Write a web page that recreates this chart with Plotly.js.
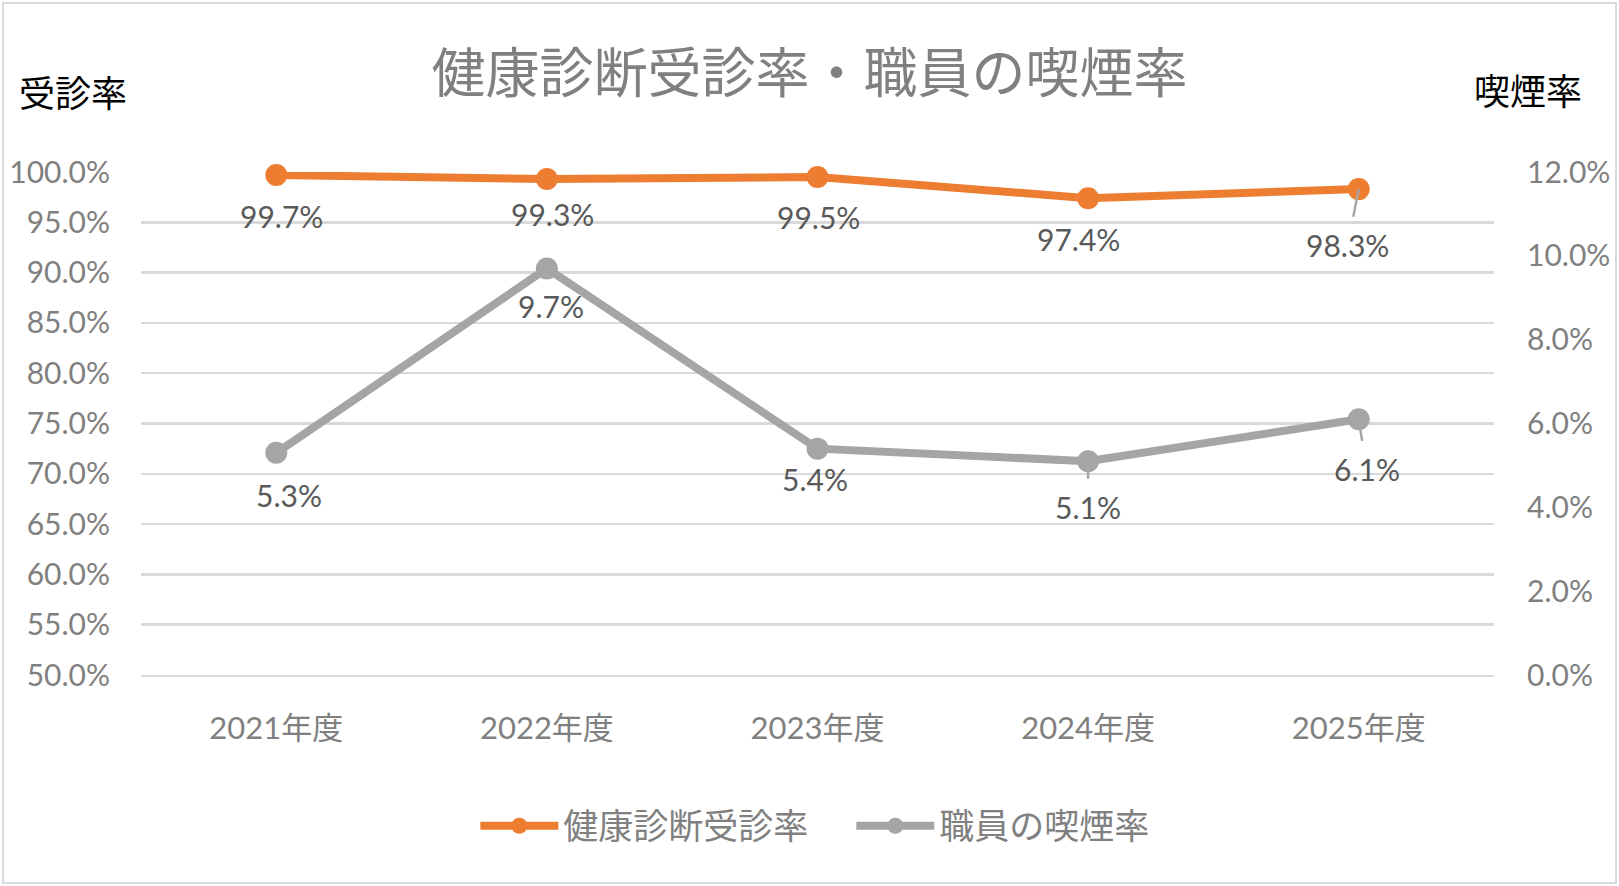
<!DOCTYPE html>
<html>
<head>
<meta charset="utf-8">
<script src="https://cdn.plot.ly/plotly-3.0.1.min.js"></script>
<style>
  html, body { margin: 0; padding: 0; background: #ffffff; }
  #chart { position: absolute; left: 0; top: 0; width: 1619px; height: 886px; }
  #frame { position: absolute; left: 2px; top: 2px; width: 1615px; height: 882px;
           box-sizing: border-box; border: 2px solid #d9d9d9; pointer-events: none; }
</style>
</head>
<body>
<div id="chart"></div>
<div id="frame"></div>
<script>
// ---- data ----
const categories = ['2021年度', '2022年度', '2023年度', '2024年度', '2025年度'];
const checkupRate = [0.997, 0.993, 0.995, 0.974, 0.983];   // 健康診断受診率
const smokingRate = [0.053, 0.097, 0.054, 0.051, 0.061];   // 職員の喫煙率
const seriesNames = ['健康診断受診率', '職員の喫煙率'];
const leftTicks = [0.50, 0.55, 0.60, 0.65, 0.70, 0.75, 0.80, 0.85, 0.90, 0.95, 1.00];
const rightTicks = [0, 0.02, 0.04, 0.06, 0.08, 0.10, 0.12];

// ---- label placement (pixel offsets from each point) ----
const checkupOffsets = [[5, 41, false], [6, 35, false], [1, 40, false], [-10, 41, false], [-11, 56, true]];
const smokingOffsets = [[13, 42, false], [4, 38, false], [-3, 30, false], [0, 46, true], [8, 50, true]];

const LATIN = 'Lato, "Noto Sans CJK JP", sans-serif';
const CJK = '"Noto Sans CJK JP", Lato, sans-serif';
const ORANGE = '#ED7D31';
const GRAY = '#A5A5A5';

const traces = [
  {
    x: categories, y: checkupRate, name: seriesNames[0], type: 'scatter', mode: 'lines+markers',
    yaxis: 'y', line: { color: ORANGE, width: 8 }, marker: { color: ORANGE, size: 22 },
    cliponaxis: false, hoverinfo: 'skip'
  },
  {
    x: categories, y: smokingRate, name: seriesNames[1], type: 'scatter', mode: 'lines+markers',
    yaxis: 'y2', line: { color: GRAY, width: 8 }, marker: { color: GRAY, size: 22 },
    cliponaxis: false, hoverinfo: 'skip'
  }
];

function pct(v) { return (v * 100).toFixed(1) + '%'; }

const annotations = [];
function addLabels(values, offsets, yref) {
  values.forEach((v, i) => {
    const [dx, dy, leader] = offsets[i];
    const a = {
      x: categories[i], y: v, xref: 'x', yref: yref, text: pct(v),
      font: { family: LATIN, size: 30, color: '#595959' }
    };
    if (leader) {
      Object.assign(a, { showarrow: true, arrowhead: 0, arrowwidth: 2.5, arrowcolor: '#A6A6A6',
        ax: dx, ay: dy, standoff: 0, startstandoff: 9 });
    } else {
      Object.assign(a, { showarrow: false, xshift: dx, yshift: -dy });
    }
    annotations.push(a);
  });
}
addLabels(checkupRate, checkupOffsets, 'y');
addLabels(smokingRate, smokingOffsets, 'y2');

// axis titles (horizontal)
annotations.push({
  text: '受診率', xref: 'paper', yref: 'paper', x: (73 - 141) / 1353, y: (675 - 91) / 503,
  xanchor: 'center', yanchor: 'middle', showarrow: false,
  font: { family: CJK, size: 36, color: '#000000' }
});
annotations.push({
  text: '喫煙率', xref: 'paper', yref: 'paper', x: (1528 - 141) / 1353, y: (675 - 89) / 503,
  xanchor: 'center', yanchor: 'middle', showarrow: false,
  font: { family: CJK, size: 36, color: '#000000' }
});

const layout = {
  width: 1619, height: 886,
  paper_bgcolor: '#ffffff', plot_bgcolor: '#ffffff',
  margin: { l: 141, r: 125, t: 172, b: 211, pad: 0 },
  title: {
    text: '健康診断受診率・職員の喫煙率',
    font: { family: CJK, size: 54, color: '#808080' },
    x: 0.5, xref: 'container', xanchor: 'center',
    y: 1 - 74 / 886, yref: 'container', yanchor: 'middle'
  },
  showlegend: true,
  legend: {
    orientation: 'h', x: 0.525, xanchor: 'center', xref: 'paper',
    y: (675 - 826) / 503, yanchor: 'middle', yref: 'paper',
    font: { family: CJK, size: 35, color: '#808080' },
    itemwidth: 78, entrywidth: 283, entrywidthmode: 'pixels',
    tracegroupgap: 0, bgcolor: 'rgba(0,0,0,0)'
  },
  xaxis: {
    type: 'category', range: [-0.5, 4.5], showgrid: false, zeroline: false,
    showline: true, linecolor: '#d9d9d9', linewidth: 2, ticks: '',
    tickfont: { family: LATIN, size: 31, color: '#808080' },
    ticklabelstandoff: 25, fixedrange: true
  },
  yaxis: {
    range: [0.5, 1.0], tickvals: leftTicks, tickformat: '.1%',
    showgrid: true, gridcolor: '#d9d9d9', gridwidth: 2.5,
    zeroline: false, showline: false, ticks: '',
    tickfont: { family: LATIN, size: 30, color: '#808080' },
    ticklabelstandoff: 30, fixedrange: true
  },
  yaxis2: {
    range: [0, 0.12], tickvals: rightTicks, tickformat: '.1%',
    overlaying: 'y', side: 'right', showgrid: false, zeroline: false,
    showline: false, ticks: '',
    tickfont: { family: LATIN, size: 30, color: '#808080' },
    ticklabelstandoff: 32, fixedrange: true
  },
  annotations: annotations,
  hovermode: false
};

Plotly.newPlot('chart', traces, layout, { staticPlot: true, displayModeBar: false });
</script>
</body>
</html>
